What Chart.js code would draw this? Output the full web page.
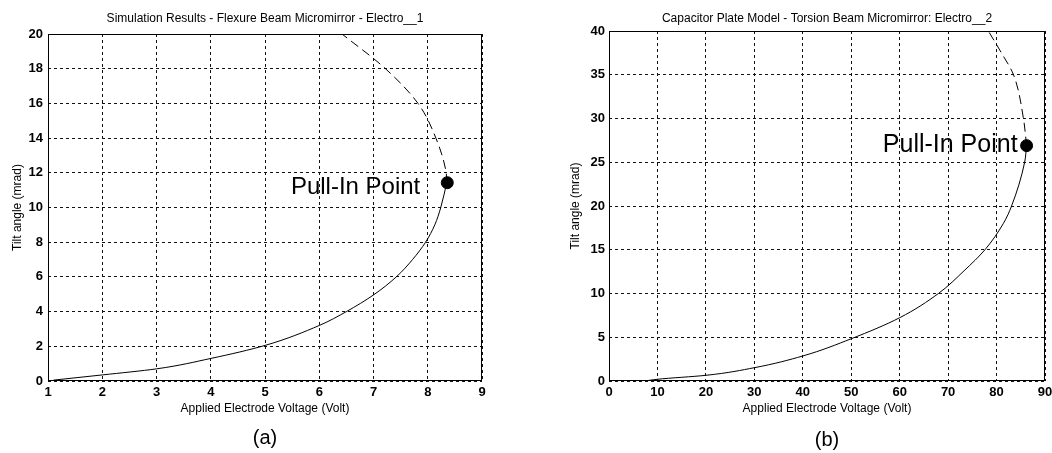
<!DOCTYPE html>
<html>
<head>
<meta charset="utf-8">
<script src="https://cdn.jsdelivr.net/npm/chart.js@4/dist/chart.umd.min.js"></script>
<style>
body{margin:0;background:#fff;overflow:hidden;}
#graficaA{position:absolute;left:0;top:0;}
#graficaB{position:absolute;left:530px;top:0;}
</style>
</head>
<body>
<canvas id="graficaA" width="520" height="453"></canvas>
<canvas id="graficaB" width="522" height="453"></canvas>
<script>
// (a) Flexure beam - rama estable (solida) e inestable (discontinua)
var voltajeA = [1.1, 2, 3, 4, 5, 6, 6.5, 7, 7.42, 7.72, 7.96, 8.13, 8.24, 8.35];
var anguloA = [0.05, 0.35, 0.7, 1.3, 2.05, 3.2, 4.0, 4.96, 6, 7, 8, 9, 10, 11.43];
var voltajeInestableA = [8.35, 8.34, 8.15, 7.82, 7.22, 6.42];
var anguloInestableA = [11.43, 12, 14, 16, 18, 20];
var pullInA = [8.36, 11.43];

// (b) Torsion beam
var voltajeB = [7.4, 10, 20, 30, 40, 50, 60, 68, 73.3, 77.6, 81.4, 83.1, 85.8, 86.2];
var anguloB = [0, 0.2, 0.65, 1.52, 2.86, 4.83, 7.23, 10, 12.6, 15, 18, 20, 25, 26.9];
var voltajeInestableB = [86.2, 85.55, 83.5, 81.06, 78.3];
var anguloInestableB = [26.9, 30, 35, 37.45, 40];
var pullInB = [86.2, 26.9];

var ticksXA = [1, 9, 1];
var ticksYA = [0, 20, 2];
var ticksXB = [0, 90, 10];
var ticksYB = [0, 40, 5];

Chart.defaults.font.family = '"Liberation Sans", Arial, sans-serif';
Chart.defaults.color = '#000';

function puntos(xs, ys){
  var p = [];
  for (var i = 0; i < xs.length; i++) {
    p.push({x: xs[i], y: ys[i]});
  }
  return p;
}

var marco = {
  id: 'marco',
  beforeDatasetsDraw: function(chart){
    var a = chart.chartArea;
    var ctx = chart.ctx;
    ctx.save();
    ctx.strokeStyle = '#000';
    ctx.lineWidth = 1;
    ctx.strokeRect(a.left + 0.5, a.top + 0.5, a.right - a.left - 1, a.bottom - a.top - 1);
    ctx.restore();
  },
  afterDatasetsDraw: function(chart, args, opts){
    var ctx = chart.ctx;
    var x = chart.scales.x.getPixelForValue(opts.punto[0]);
    var y = chart.scales.y.getPixelForValue(opts.punto[1]);
    ctx.save();
    ctx.fillStyle = '#000';
    ctx.font = opts.tam + 'px "Liberation Sans", Arial, sans-serif';
    ctx.textAlign = 'right';
    ctx.textBaseline = 'middle';
    ctx.fillText('Pull-In Point', x - opts.dx, y + opts.dy);
    ctx.restore();
  }
};

function sinRelleno(eje){
  eje.paddingLeft = 0;
  eje.paddingRight = 0;
  eje.paddingTop = 0;
  eje.paddingBottom = 0;
}

function graficar(id, c){
  var graficar = document.getElementById(id).getContext('2d');
  return new Chart(graficar, {
    type: 'line',
    data: {
      datasets: [{
        data: puntos(c.vx, c.vy),
        indexAxis: 'y',
        borderColor: '#000',
        borderWidth: 1,
        pointRadius: 0,
        cubicInterpolationMode: 'monotone'
      }, {
        data: puntos(c.ix, c.iy),
        indexAxis: 'y',
        borderColor: '#000',
        borderWidth: 1,
        borderDash: [9, 5],
        pointRadius: 0,
        cubicInterpolationMode: 'monotone'
      }, {
        data: [{x: c.pull[0], y: c.pull[1]}],
        showLine: false,
        pointRadius: 6,
        pointBackgroundColor: '#000',
        pointBorderColor: '#000'
      }]
    },
    options: {
      responsive: false,
      animation: false,
      layout: {padding: {left: 0, right: c.padDer, top: 0, bottom: 0}},
      plugins: {
        legend: {display: false},
        tooltip: {enabled: false},
        title: {
          display: true,
          text: c.titulo,
          fullSize: false,
          font: {size: 12, weight: 'normal'},
          padding: {top: 11, bottom: c.altoTitulo - 11 - 14.4}
        },
        subtitle: {
          display: true,
          position: 'bottom',
          text: c.letra,
          fullSize: false,
          font: {size: 20, weight: 'normal'},
          padding: {top: c.subPad[0], bottom: c.subPad[1]}
        },
        marco: {punto: c.pull, dx: c.textoDx, dy: c.textoDy, tam: c.tamTexto}
      },
      scales: {
        x: {
          type: 'linear',
          min: c.tx[0], max: c.tx[1],
          ticks: {stepSize: c.tx[2], padding: 4, font: {size: 13, weight: 'bold'}},
          grid: {color: '#111', drawTicks: false},
          border: {display: false, dash: [3, 3]},
          title: {display: true, text: 'Applied Electrode Voltage (Volt)', font: {size: 12}, padding: {top: 0, bottom: 10}},
          afterFit: function(eje){ eje.height = 45; sinRelleno(eje); }
        },
        y: {
          type: 'linear',
          min: c.ty[0], max: c.ty[1],
          ticks: {stepSize: c.ty[2], padding: c.padTicksY, font: {size: 13, weight: 'bold'}},
          grid: {color: '#111', drawTicks: false},
          border: {display: false, dash: [3, 3]},
          title: {display: true, text: 'Tilt angle (mrad)', font: {size: 12}, padding: {top: c.padTituloY, bottom: 0}},
          afterFit: function(eje){ eje.width = c.anchoY; sinRelleno(eje); }
        }
      }
    },
    plugins: [marco]
  });
}

graficar('graficaA', {
  vx: voltajeA, vy: anguloA, ix: voltajeInestableA, iy: anguloInestableA, pull: pullInA,
  tx: ticksXA, ty: ticksYA,
  titulo: 'Simulation Results - Flexure Beam Micromirror - Electro__1',
  letra: '(a)',
  padDer: 38, anchoY: 48, altoTitulo: 34, padTicksY: 5, padTituloY: 10,
  subPad: [0, 3], textoDx: 27, textoDy: 5, tamTexto: 24
});

graficar('graficaB', {
  vx: voltajeB, vy: anguloB, ix: voltajeInestableB, iy: anguloInestableB, pull: pullInB,
  tx: ticksXB, ty: ticksYB,
  titulo: 'Capacitor Plate Model - Torsion Beam Micromirror: Electro__2',
  letra: '(b)',
  padDer: 7, anchoY: 79, altoTitulo: 31, padTicksY: 4, padTituloY: 38,
  subPad: [2, 1], textoDx: 9, textoDy: -1, tamTexto: 25
});
</script>
</body>
</html>
